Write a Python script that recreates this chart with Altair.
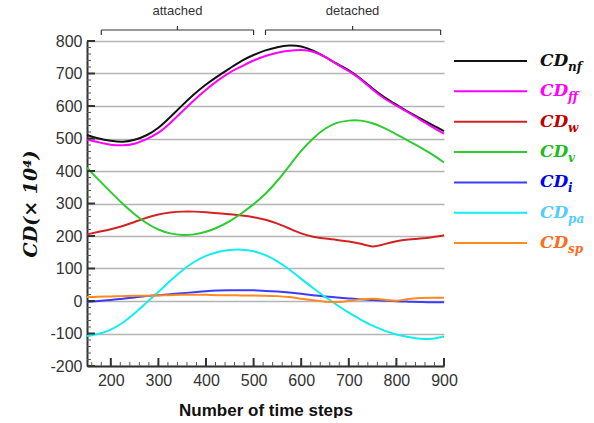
import altair as alt
import pandas as pd

steps = [150, 175, 200, 225, 250, 275, 300, 325, 350, 375, 400, 425, 450, 475, 500, 525,
         550, 575, 600, 625, 650, 675, 700, 725, 750, 775, 800, 825, 850, 875, 900]

cd_nf = [511, 500, 493, 490, 496, 510, 533, 566, 602, 636, 666, 692, 716, 739, 757, 771,
         781, 786, 783, 770, 751, 730, 710, 684, 654, 627, 604, 582, 562, 542, 523]
cd_ff = [497, 488, 481, 479, 484, 498, 518, 548, 583, 618, 650, 679, 703, 722, 740, 754,
         764, 770, 772, 767, 751, 729, 707, 682, 651, 623, 601, 580, 558, 536, 515]
cd_w = [205, 213, 221, 231, 243, 256, 266, 272, 275, 275, 273, 270, 267, 263, 258, 250,
        238, 223, 208, 198, 192, 188, 183, 176, 168, 175, 184, 189, 192, 196, 202]
cd_v = [410, 372, 335, 299, 267, 240, 220, 208, 203, 205, 213, 227, 246, 270, 298, 330,
        370, 416, 462, 500, 530, 548, 555, 555, 547, 532, 513, 493, 473, 451, 426]
cd_i = [-3, 0, 3, 7, 11, 15, 18, 21, 24, 27, 30, 32, 33, 33, 33, 31,
        29, 26, 22, 18, 14, 11, 8, 5, 3, 1, -1, -2, -3, -4, -4]
cd_pa = [-108, -101, -88, -67, -38, -5, 28, 62, 94, 120, 139, 151, 157, 158, 153, 141,
         122, 97, 68, 40, 13, -12, -36, -57, -76, -91, -103, -111, -116, -116, -109]
cd_sp = [12, 13, 14, 15, 16, 16, 17, 18, 19, 19, 19, 18, 18, 17, 17, 16,
         15, 12, 7, 2, -2, -3, 0, 5, 7, 4, 1, 6, 9, 10, 10]

series_keys = ["nf", "ff", "w", "v", "i", "pa", "sp"]
series_vals = [cd_nf, cd_ff, cd_w, cd_v, cd_i, cd_pa, cd_sp]
line_colors = ["#111111", "#ff00ff", "#d42222", "#2ecc2e", "#3c3cff", "#11eeee", "#ff8a1e"]
text_colors = ["#111111", "#ff00ff", "#c00000", "#22bb22", "#0000ee", "#55ccff", "#ff6a1e"]

x_major = [200, 300, 400, 500, 600, 700, 800, 900]
x_minor = list(range(160, 901, 20))
y_major = [-200, -100, 0, 100, 200, 300, 400, 500, 600, 700, 800]
y_minor = list(range(-200, 801, 20))

bracket_labels = ["attached", "detached"]
bracket_start = [180, 525]
bracket_end = [500, 893]
bracket_mid = [340, 708]

W, H = 357, 325

rows = []
for k, vals in zip(series_keys, series_vals):
    for s, v in zip(steps, vals):
        rows.append({"series": k, "step": s, "value": v})
df = pd.DataFrame(rows)

xs = alt.Scale(domain=[150, 900], nice=False)
ys = alt.Scale(domain=[-200, 800], nice=False)

xa = alt.Axis(values=x_major, grid=False, ticks=False, title="Number of time steps",
              labelFont="Liberation Sans", labelFontSize=16, labelColor="#333",
              labelPadding=6, titleFont="Liberation Sans", titleFontSize=17,
              titleFontWeight="bold", titleColor="#111", titlePadding=14,
              domainColor="#333", domainWidth=2, labelFlush=False, labelOverlap=False)
ya = alt.Axis(values=y_major, grid=True, gridColor="#b4b4b4", gridWidth=1.5,
              ticks=False, title="CD(× 10⁴)", titleFont="DejaVu Serif",
              titleFontStyle="italic", titleFontWeight="bold", titleFontSize=19,
              titleColor="#111", titlePadding=9,
              labelFont="Liberation Sans", labelFontSize=16, labelColor="#333",
              labelPadding=5, domainColor="#333", domainWidth=2, labelOverlap=False,
              labelExpr="datum.value < 0 ? '-' + abs(datum.value) : '' + datum.value")


def X(field):
    return alt.X(field, scale=xs, axis=xa)


def Y(field):
    return alt.Y(field, scale=ys, axis=ya)


lines = alt.Chart(df).mark_line(strokeWidth=2, interpolate="natural").encode(
    x=X("step:Q"),
    y=Y("value:Q"),
    color=alt.Color("series:N", scale=alt.Scale(domain=series_keys, range=line_colors), legend=None),
    order=alt.Order("step:Q"),
)

ymaj_df = pd.DataFrame({"v": y_major})
ymin_df = pd.DataFrame({"v": y_minor})
xmaj_df = pd.DataFrame({"v": x_major})
xmin_df = pd.DataFrame({"v": x_minor})

ytick_major = alt.Chart(ymaj_df).mark_rule(color="#333", strokeWidth=2).encode(
    y=Y("v:Q"), x=alt.value(0), x2=alt.value(8))
ytick_minor = alt.Chart(ymin_df).mark_rule(color="#555", strokeWidth=1).encode(
    y=Y("v:Q"), x=alt.value(0), x2=alt.value(4))
xtick_major = alt.Chart(xmaj_df).mark_rule(color="#333", strokeWidth=2).encode(
    x=X("v:Q"), y=alt.value(H), y2=alt.value(H - 8))
xtick_minor = alt.Chart(xmin_df).mark_rule(color="#555", strokeWidth=1).encode(
    x=X("v:Q"), y=alt.value(H), y2=alt.value(H - 4))

br_df = pd.DataFrame({"label": bracket_labels, "s": bracket_start, "e": bracket_end, "m": bracket_mid})
br_h = alt.Chart(br_df).mark_rule(color="#333", strokeWidth=1.2).encode(
    x=X("s:Q"), x2="e:Q", y=alt.value(-11))
br_l = alt.Chart(br_df).mark_rule(color="#333", strokeWidth=1.2).encode(
    x=X("s:Q"), y=alt.value(-11), y2=alt.value(-6))
br_r = alt.Chart(br_df).mark_rule(color="#333", strokeWidth=1.2).encode(
    x=X("e:Q"), y=alt.value(-11), y2=alt.value(-6))
br_m = alt.Chart(br_df).mark_rule(color="#333", strokeWidth=1.2).encode(
    x=X("m:Q"), y=alt.value(-11), y2=alt.value(-15))
br_t = alt.Chart(br_df).mark_text(font="Liberation Sans", fontSize=13, color="#333",
                                  baseline="middle").encode(
    x=X("m:Q"), y=alt.value(-30), text="label:N")

main = alt.layer(lines, ytick_minor, ytick_major, xtick_minor, xtick_major,
                 br_h, br_l, br_r, br_m, br_t).properties(width=W, height=H)

leg_df = pd.DataFrame({
    "idx": list(range(len(series_keys))),
    "sub": series_keys,
    "lc": line_colors,
    "tc": text_colors,
})
ly = alt.Scale(domain=[-0.66, 10.05], nice=False, zero=False, reverse=True)
leg_line = alt.Chart(leg_df).mark_rule(strokeWidth=2).encode(
    y=alt.Y("idx:Q", scale=ly, axis=None), x=alt.value(0), x2=alt.value(73),
    color=alt.Color("lc:N", scale=None))
leg_cd = alt.Chart(leg_df).mark_text(font="DejaVu Serif", fontStyle="italic", fontWeight="bold",
                                     fontSize=17, align="left", baseline="middle").encode(
    y=alt.Y("idx:Q", scale=ly, axis=None), x=alt.value(86), text=alt.value("CD"),
    color=alt.Color("tc:N", scale=None))
leg_sub = alt.Chart(leg_df).mark_text(font="DejaVu Serif", fontStyle="italic", fontWeight="bold",
                                      fontSize=12, align="left", baseline="middle", dy=6).encode(
    y=alt.Y("idx:Q", scale=ly, axis=None), x=alt.value(114), text="sub:N",
    color=alt.Color("tc:N", scale=None))
legend = alt.layer(leg_line, leg_cd, leg_sub).properties(width=125, height=H)

chart = alt.hconcat(main, legend, spacing=10, bounds="flush").properties(
    padding={"left": 21, "top": 5, "right": 0, "bottom": 0}
).configure_view(stroke=None)

chart.save("out.html", embed_options={"renderer": "svg", "actions": False})
